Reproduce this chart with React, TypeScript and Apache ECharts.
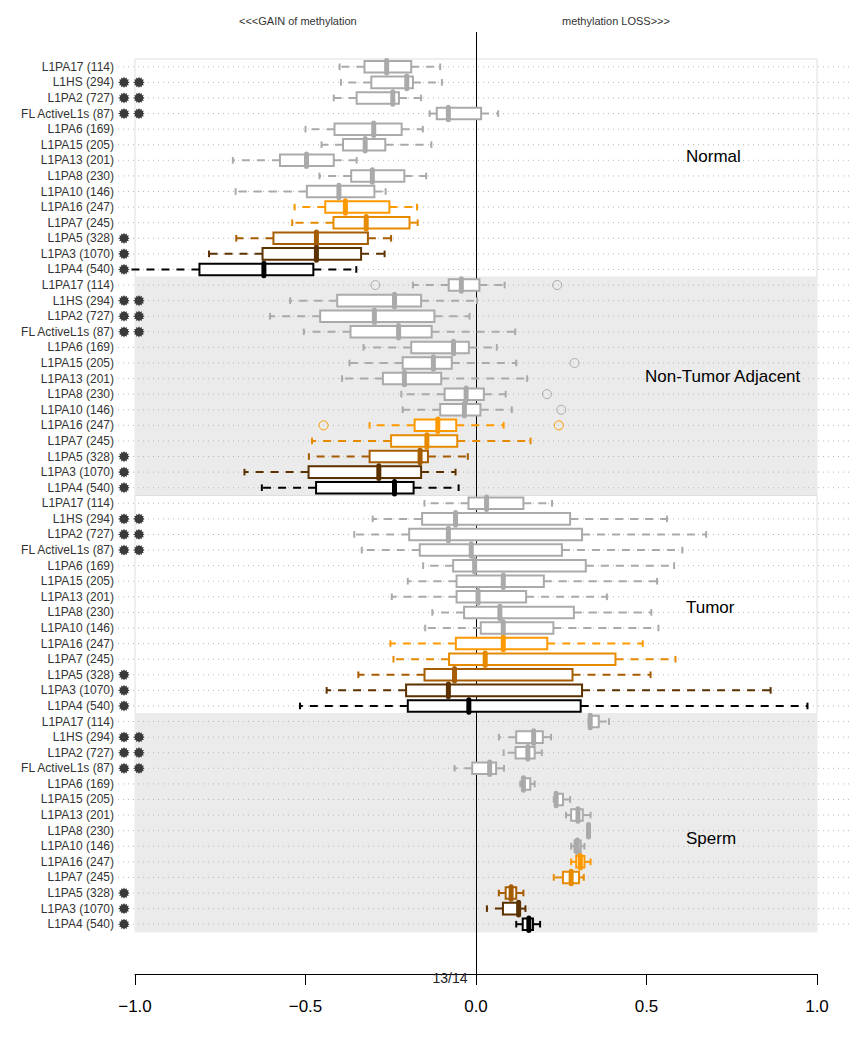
import React, { useEffect, useRef } from "react";
import * as echarts from "echarts";

const FONT = "'Liberation Sans', Arial, Helvetica, sans-serif";

const rowLabels = [
  "L1PA17 (114)", "L1HS (294)", "L1PA2 (727)", "FL ActiveL1s (87)", "L1PA6 (169)",
  "L1PA15 (205)", "L1PA13 (201)", "L1PA8 (230)", "L1PA10 (146)", "L1PA16 (247)",
  "L1PA7 (245)", "L1PA5 (328)", "L1PA3 (1070)", "L1PA4 (540)",
];
const starCounts = [0, 2, 2, 2, 0, 0, 0, 0, 0, 0, 0, 1, 1, 1];
const rowColors = [
  "#aaaaaa", "#aaaaaa", "#aaaaaa", "#aaaaaa", "#aaaaaa", "#aaaaaa", "#aaaaaa", "#aaaaaa", "#aaaaaa",
  "#ff9900", "#e68a00", "#a65c00", "#5c3100", "#000000",
];
const groupNames = ["Normal", "Non-Tumor Adjacent", "Tumor", "Sperm"];
const xTickLabels = ["\u22121.0", "\u22120.5", "0.0", "0.5", "1.0"];

// [lower whisker, Q1, median, Q3, upper whisker]
const normalStats = [
  [-0.4, -0.327, -0.262, -0.19, -0.105],
  [-0.396, -0.307, -0.203, -0.185, -0.1],
  [-0.417, -0.35, -0.244, -0.226, -0.161],
  [-0.136, -0.115, -0.081, 0.015, 0.065],
  [-0.5, -0.415, -0.3, -0.218, -0.156],
  [-0.453, -0.39, -0.325, -0.266, -0.131],
  [-0.713, -0.575, -0.497, -0.417, -0.35],
  [-0.459, -0.366, -0.304, -0.21, -0.146],
  [-0.705, -0.496, -0.402, -0.298, -0.265],
  [-0.532, -0.442, -0.383, -0.254, -0.173],
  [-0.539, -0.418, -0.322, -0.195, -0.171],
  [-0.703, -0.594, -0.468, -0.317, -0.249],
  [-0.783, -0.626, -0.468, -0.337, -0.268],
  [-1.03, -0.811, -0.622, -0.477, -0.351],
];
const nonTumorStats = [
  [-0.185, -0.08, -0.043, 0.01, 0.084],
  [-0.545, -0.407, -0.239, -0.161, 0.003],
  [-0.604, -0.457, -0.298, -0.122, -0.019],
  [-0.505, -0.368, -0.227, -0.13, 0.115],
  [-0.33, -0.19, -0.066, -0.021, 0.061],
  [-0.371, -0.215, -0.125, -0.071, 0.118],
  [-0.393, -0.273, -0.21, -0.102, 0.15],
  [-0.219, -0.092, -0.029, 0.023, 0.087],
  [-0.215, -0.105, -0.034, 0.013, 0.105],
  [-0.312, -0.18, -0.112, -0.058, 0.081],
  [-0.481, -0.249, -0.144, -0.055, 0.16],
  [-0.49, -0.312, -0.164, -0.141, -0.024],
  [-0.679, -0.491, -0.285, -0.161, -0.06],
  [-0.628, -0.469, -0.239, -0.183, -0.051],
];
const tumorStats = [
  [-0.151, -0.022, 0.031, 0.139, 0.223],
  [-0.303, -0.158, -0.06, 0.276, 0.56],
  [-0.357, -0.196, -0.081, 0.311, 0.675],
  [-0.335, -0.165, -0.014, 0.252, 0.605],
  [-0.155, -0.067, -0.004, 0.322, 0.581],
  [-0.2, -0.057, 0.08, 0.199, 0.531],
  [-0.247, -0.057, 0.006, 0.147, 0.384],
  [-0.128, -0.035, 0.07, 0.287, 0.514],
  [-0.149, 0.014, 0.08, 0.227, 0.535],
  [-0.251, -0.059, 0.08, 0.209, 0.489],
  [-0.242, -0.079, 0.027, 0.409, 0.585],
  [-0.345, -0.151, -0.063, 0.283, 0.512],
  [-0.438, -0.205, -0.081, 0.311, 0.864],
  [-0.516, -0.2, -0.021, 0.307, 0.972],
];
const spermStats = [
  [0.33, 0.335, 0.335, 0.36, 0.39],
  [0.067, 0.118, 0.169, 0.196, 0.22],
  [0.081, 0.116, 0.152, 0.172, 0.193],
  [-0.063, -0.011, 0.04, 0.059, 0.082],
  [0.13, 0.135, 0.139, 0.159, 0.172],
  [0.228, 0.232, 0.235, 0.255, 0.276],
  [0.264, 0.279, 0.299, 0.313, 0.336],
  [0.326, 0.328, 0.33, 0.332, 0.334],
  [0.279, 0.289, 0.297, 0.307, 0.318],
  [0.279, 0.294, 0.306, 0.318, 0.336],
  [0.228, 0.255, 0.279, 0.302, 0.316],
  [0.067, 0.087, 0.103, 0.118, 0.139],
  [0.032, 0.079, 0.125, 0.125, 0.145],
  [0.118, 0.137, 0.155, 0.167, 0.188],
];
// outliers: [row in group, value]
const normalOutliers: number[][] = [];
const nonTumorOutliers = [
  [0, -0.295], [0, 0.238], [5, 0.289], [7, 0.208], [8, 0.25], [9, -0.447], [9, 0.243],
];
const tumorOutliers: number[][] = [];
const spermOutliers: number[][] = [];

const allStats = [normalStats, nonTumorStats, tumorStats, spermStats];
const allOutliers = [normalOutliers, nonTumorOutliers, tumorOutliers, spermOutliers];

export default function App() {
  const ref = useRef<HTMLDivElement>(null);
  useEffect(() => {
    document.body.style.margin = "0";
    if (!ref.current) return;
    const chart = echarts.init(ref.current, undefined, { renderer: "svg" });
    const nRows = rowLabels.length;
    const total = nRows * groupNames.length;
    const cats = Array.from({ length: total }, (_, i) => String(i));

    const boxData: number[][] = [];
    allStats.forEach((stats, g) =>
      stats.forEach((s, r) => boxData.push([...s, g * nRows + r, r]))
    );
    const outData: number[][] = [];
    allOutliers.forEach((outs, g) =>
      outs.forEach(([r, v]) => outData.push([v, g * nRows + r, r]))
    );
    const panelData = groupNames.map((_, g) => [0, g * nRows, g * nRows + nRows - 1, g]);
    const dotData = cats.map((_, i) => [0, i]);
    const starData: number[][] = [];
    for (let g = 0; g < groupNames.length; g++)
      starCounts.forEach((c, r) => { if (c > 0) starData.push([0, g * nRows + r, c]); });

    const starPoints = (cx: number, cy: number) => {
      const pts: number[][] = [];
      const n = 12;
      for (let i = 0; i < n * 2; i++) {
        const a = (Math.PI * i) / n;
        const rr = i % 2 === 0 ? 5.6 : 4.0;
        pts.push([cx + rr * Math.cos(a), cy + rr * Math.sin(a)]);
      }
      return pts;
    };

    const option: any = {
      animation: false,
      textStyle: { fontFamily: FONT },
      grid: { left: 135, right: 48, top: 59, bottom: 118, containLabel: false },
      xAxis: {
        type: "value",
        min: -1,
        max: 1,
        interval: 0.5,
        position: "bottom",
        offset: 42,
        axisLine: { show: true, lineStyle: { color: "#000", width: 1 } },
        axisTick: { show: true, length: 11, lineStyle: { color: "#000", width: 1 } },
        axisLabel: {
          fontSize: 17,
          color: "#000",
          margin: 24,
          fontFamily: FONT,
          formatter: (v: number) => xTickLabels[Math.round((v + 1) / 0.5)],
        },
        splitLine: { show: false },
      },
      yAxis: {
        type: "category",
        data: cats,
        inverse: true,
        axisLine: { show: false },
        axisTick: { show: false },
        splitLine: { show: false },
        axisLabel: {
          interval: 0,
          fontSize: 12,
          color: "#333",
          margin: 21,
          fontFamily: FONT,
          formatter: (v: string) => rowLabels[Number(v) % nRows],
        },
      },
      graphic: [
        { type: "text", x: 239, y: 21, style: { text: "<<<GAIN of methylation", fontSize: 11, fontFamily: FONT, fill: "#333", align: "left", verticalAlign: "middle" } },
        { type: "text", x: 562, y: 21, style: { text: "methylation LOSS>>>", fontSize: 11, fontFamily: FONT, fill: "#333", align: "left", verticalAlign: "middle" } },
        { type: "text", x: 686, y: 156, z: 10, style: { text: groupNames[0], fontSize: 17, fontFamily: FONT, fill: "#000", align: "left", verticalAlign: "middle" } },
        { type: "text", x: 645, y: 376, z: 10, style: { text: groupNames[1], fontSize: 17, fontFamily: FONT, fill: "#000", align: "left", verticalAlign: "middle" } },
        { type: "text", x: 686, y: 607, z: 10, style: { text: groupNames[2], fontSize: 17, fontFamily: FONT, fill: "#000", align: "left", verticalAlign: "middle" } },
        { type: "text", x: 686, y: 838, z: 10, style: { text: groupNames[3], fontSize: 17, fontFamily: FONT, fill: "#000", align: "left", verticalAlign: "middle" } },
        { type: "text", x: 450, y: 978, z: 10, style: { text: "13/14", fontSize: 14, fontFamily: FONT, fill: "#222", align: "center", verticalAlign: "middle" } },
      ],
      series: [
        {
          type: "custom",
          z: 1,
          silent: true,
          data: panelData,
          encode: { x: 0, y: 1 },
          renderItem: (params: any, api: any) => {
            const band = api.size([0, 1])[1];
            const top = api.coord([-1, api.value(1)])[1] - band / 2;
            const bot = api.coord([-1, api.value(2)])[1] + band / 2;
            const l = api.coord([-1, api.value(1)])[0];
            const r = api.coord([1, api.value(1)])[0];
            const g = api.value(3);
            const grey = g % 2 === 1;
            return {
              type: "rect",
              shape: { x: l, y: top, width: r - l, height: bot - top },
              style: { fill: grey ? "#ebebeb" : "#ffffff", stroke: grey ? "#ebebeb" : "#dedede", lineWidth: 1 },
            };
          },
        },
        {
          type: "custom",
          z: 2,
          silent: true,
          data: dotData,
          encode: { x: 0, y: 1 },
          renderItem: (params: any, api: any) => {
            const y = api.coord([0, api.value(1)])[1];
            const l = api.coord([-1, api.value(1)])[0] - 17;
            const r = api.coord([1, api.value(1)])[0] + 36;
            return {
              type: "line",
              shape: { x1: l, y1: y, x2: r, y2: y },
              style: { stroke: "#b8b8b8", lineWidth: 1, lineDash: [1, 4] },
            };
          },
        },
        {
          type: "custom",
          z: 3,
          silent: true,
          data: [[0, 0]],
          encode: { x: 0, y: 1 },
          renderItem: (params: any, api: any) => {
            const cs = params.coordSys;
            const x = Math.round(api.coord([0, 0])[0]) + 0.5;
            return {
              type: "line",
              shape: { x1: x, y1: cs.y - 27, x2: x, y2: cs.y + cs.height + 42 },
              style: { stroke: "#000", lineWidth: 1 },
            };
          },
        },
        {
          type: "custom",
          z: 4,
          silent: true,
          data: boxData,
          encode: { x: [0, 1, 2, 3, 4], y: 5 },
          renderItem: (params: any, api: any) => {
            const row = api.value(5);
            const color = rowColors[api.value(6)];
            const y = api.coord([0, row])[1];
            const band = api.size([0, 1])[1];
            const h = band * 0.37;
            const cap = 3.3;
            const xl = api.coord([api.value(0), row])[0];
            const x1 = api.coord([api.value(1), row])[0];
            const xm = api.coord([api.value(2), row])[0];
            const x3 = api.coord([api.value(3), row])[0];
            const xh = api.coord([api.value(4), row])[0];
            const dash = { stroke: color, lineWidth: 2, lineDash: [8, 7], fill: null };
            const solid = { stroke: color, lineWidth: 2, fill: null };
            return {
              type: "group",
              children: [
                { type: "line", shape: { x1: x1, y1: y, x2: xl, y2: y }, style: dash },
                { type: "line", shape: { x1: x3, y1: y, x2: xh, y2: y }, style: dash },
                { type: "line", shape: { x1: xl, y1: y - cap, x2: xl, y2: y + cap }, style: solid },
                { type: "line", shape: { x1: xh, y1: y - cap, x2: xh, y2: y + cap }, style: solid },
                { type: "rect", shape: { x: x1, y: y - h, width: x3 - x1, height: 2 * h }, style: { fill: "#ffffff", stroke: color, lineWidth: 2 } },
                { type: "line", shape: { x1: xm, y1: y - h - 0.5, x2: xm, y2: y + h + 0.5 }, style: { stroke: color, lineWidth: 5, lineCap: "round", fill: null } },
              ],
            };
          },
        },
        {
          type: "custom",
          z: 5,
          silent: true,
          data: outData,
          encode: { x: 0, y: 1 },
          renderItem: (params: any, api: any) => {
            const p = api.coord([api.value(0), api.value(1)]);
            return {
              type: "circle",
              shape: { cx: p[0], cy: p[1], r: 4.5 },
              style: { fill: null, stroke: rowColors[api.value(2)], lineWidth: 1 },
            };
          },
        },
        {
          type: "custom",
          z: 6,
          silent: true,
          data: starData,
          encode: { x: 0, y: 1 },
          renderItem: (params: any, api: any) => {
            const y = api.coord([-1, api.value(1)])[1];
            const x0 = api.coord([-1, api.value(1)])[0] - 11;
            const n = api.value(2);
            const children: any[] = [];
            for (let i = 0; i < n; i++) {
              children.push({
                type: "polygon",
                shape: { points: starPoints(x0 + 15 * i, y) },
                style: { fill: "#3a3a3a", stroke: null },
              });
            }
            return { type: "group", children };
          },
        },
      ],
    };
    chart.setOption(option);
    return () => chart.dispose();
  }, []);
  return <div ref={ref} style={{ width: 865, height: 1050 }} />;
}
